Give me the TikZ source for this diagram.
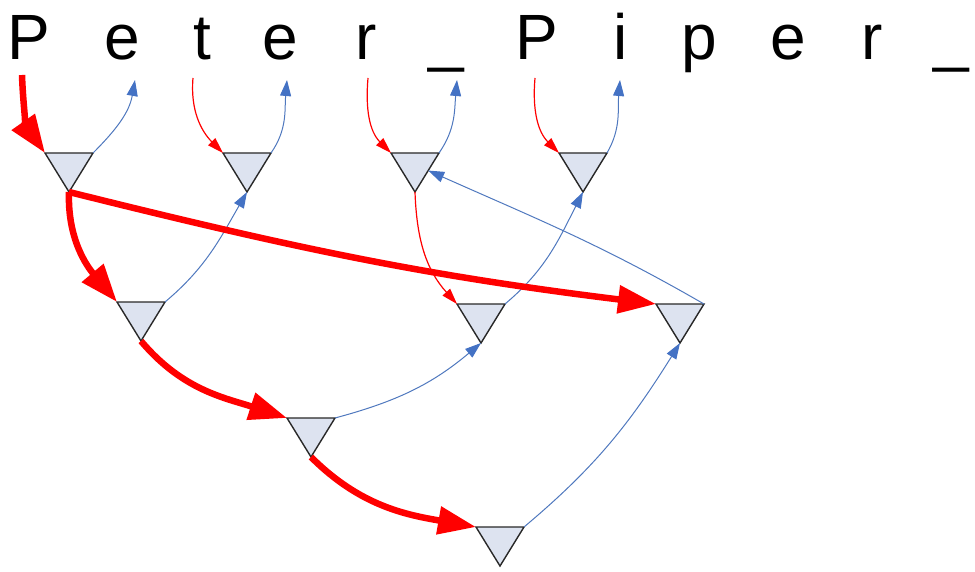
\documentclass[tikz,border=0pt]{standalone}
\usepackage{fontspec}
\setmainfont{Liberation Sans}
\usetikzlibrary{arrows.meta,calc}
\definecolor{tred}{RGB}{255,0,0}
\definecolor{tblue}{RGB}{79,120,190}
\definecolor{tbluehead}{RGB}{68,114,196}
\definecolor{tfill}{RGB}{221,227,240}
\definecolor{tedge}{RGB}{40,40,40}
\tikzset{
  tri style/.style={draw=tedge, fill=tfill, line width=1.4pt, line join=miter},
  tri/.pic={\draw[tri style] (-24,0) coordinate (-l) -- (24,0) coordinate (-r) -- (0,39) coordinate (-b) -- cycle;},
  letter/.style={anchor=base, inner sep=0pt, font=\fontsize{64}{70}\selectfont},
  redthick/.style={draw=tred, line width=6.5pt, -{Triangle[length=38pt,width=27pt]}},
  redthin/.style={draw=tred, line width=1.2pt, -{Triangle[length=16pt,width=10pt]}},
  bluethin/.style={draw=tblue, line width=1pt, -{Triangle[length=16pt,width=11pt,color=tbluehead]}},
}
\begin{document}
\begin{tikzpicture}[x=1pt,y=-1pt]
\useasboundingbox (0,0) rectangle (975,572);
% letters
\node[letter] (L1) at (29,60) {P};
\node[letter] (L2) at (122,60) {e};
\node[letter] (L3) at (202,60) {t};
\node[letter] (L4) at (280,60) {e};
\node[letter] (L5) at (366,60) {r};
\node[letter] (L6) at (446,60) {\_};
\node[letter] (L7) at (537,60) {P};
\node[letter] (L8) at (621,60) {i};
\node[letter] (L9) at (699,60) {p};
\node[letter] (L10) at (788,60) {e};
\node[letter] (L11) at (872,60) {r};
\node[letter] (L12) at (951,60) {\_};
% free ends below letters
\coordinate (inP) at (22,75);
\coordinate (outE1) at (135,80);
\coordinate (inT) at (193,78);
\coordinate (outE2) at (287,80);
\coordinate (inR) at (368,78);
\coordinate (outU) at (457,80);
\coordinate (inP2) at (535,78);
\coordinate (outI) at (620,80);
% triangles
\pic (T1) at (69,153) {tri};
\pic (T2) at (247,153) {tri};
\pic (T3) at (415,153) {tri};
\pic (T4) at (583,153) {tri};
\pic (T5) at (141,302) {tri};
\pic (T6) at (481,304) {tri};
\pic (T7) at (680,304) {tri};
\pic (T8) at (311,418) {tri};
\pic (T9) at (500,527) {tri};
\coordinate (T3side) at ($(T3-r)!0.45!(T3-b)$);
% blue connectors
\draw[bluethin] (T1-r) to[out=45,in=-100] (outE1);
\draw[bluethin] (T2-r) to[out=55,in=-95] (outE2);
\draw[bluethin] (T3-r) to[out=55,in=-95] (outU);
\draw[bluethin] (T4-r) to[out=60,in=-95] (outI);
\draw[bluethin] (T5-r) to[out=40,in=-120] (T2-b);
\draw[bluethin] (T6-r) to[out=40,in=-117] (T4-b);
\draw[bluethin] (T7-r) to[out=150,in=-24] (T3side);
\draw[bluethin] (T8-r) to[out=15,in=-140] (T6-b);
\draw[bluethin] (T9-r) to[out=40,in=-122] (T7-b);
% red thin connectors
\draw[redthin] (inT) to[out=-95,in=135] (T2-l);
\draw[redthin] (inR) to[out=-95,in=135] (T3-l);
\draw[redthin] (inP2) to[out=-95,in=135] (T4-l);
\draw[redthin] (T3-b) to[out=-88,in=132] (T6-l);
% red thick connectors
\draw[redthick] (inP) to[out=-88,in=125] (T1-l);
\draw[redthick] (T1-b) to[out=-92,in=130] (T5-l);
\draw[redthick] (T1-b) to[out=-14,in=173] (T7-l);
\draw[redthick] (T5-b) to[out=-50,in=162] (T8-l);
\draw[redthick] (T8-b) to[out=-45,in=170] (T9-l);
\end{tikzpicture}
\end{document}
